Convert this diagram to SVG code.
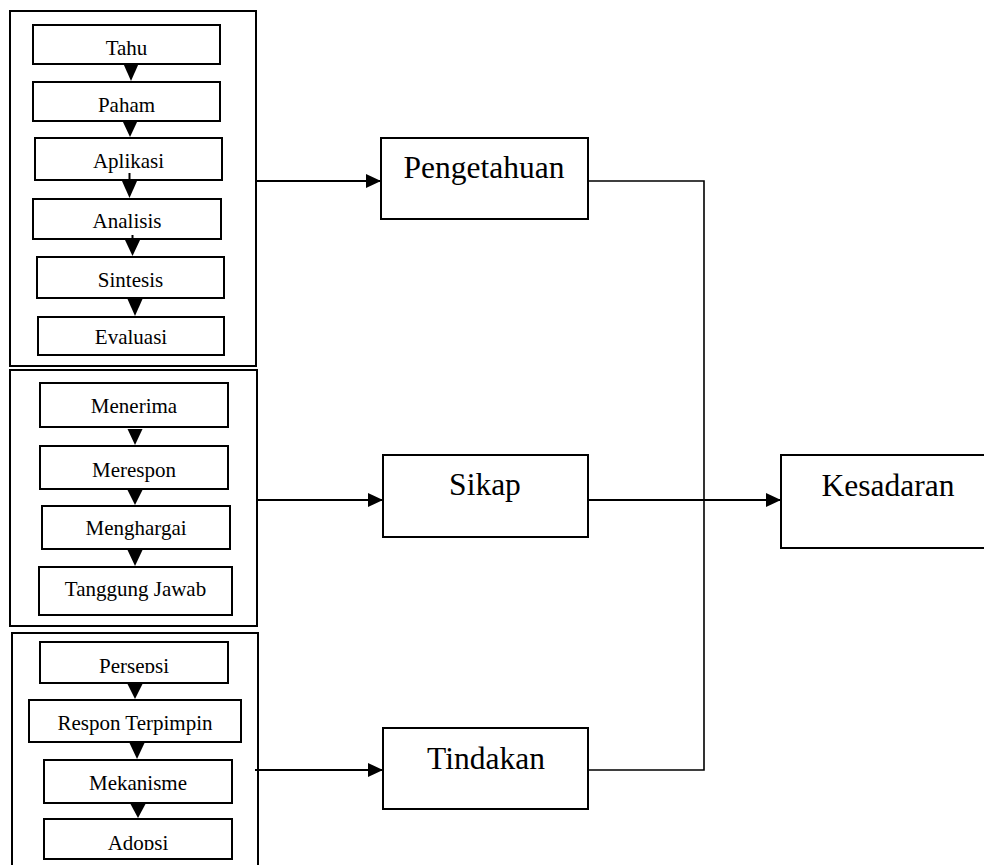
<svg xmlns="http://www.w3.org/2000/svg" width="984" height="865" viewBox="0 0 984 865">
<style>
.box{fill:#fff;stroke:#000;stroke-width:2}
.grp{fill:none;stroke:#000;stroke-width:2}
.big{fill:none;stroke:#000;stroke-width:2}
.t{font-family:"Liberation Serif","Times New Roman",serif;font-size:21px;fill:#000;text-anchor:middle}
.T{font-family:"Liberation Serif","Times New Roman",serif;font-size:31.5px;fill:#000;text-anchor:middle}
.ln{fill:none;stroke:#000;stroke-width:2}
.ln2{fill:none;stroke:#000;stroke-width:1.6}
.tri{fill:#000}
</style>
<defs>
<marker id="ah" markerWidth="15" markerHeight="14" refX="15" refY="7" orient="auto" markerUnits="userSpaceOnUse">
<path d="M0,0 L15,7 L0,14 Z" fill="#000"/>
</marker>
<clipPath id="cTahu"><rect x="33" y="25" width="187" height="30"/></clipPath>
<clipPath id="cPers"><rect x="40" y="642" width="188" height="31"/></clipPath>
<clipPath id="cAdop"><rect x="44" y="819" width="188" height="31"/></clipPath>
</defs>
<rect width="984" height="865" fill="#fff"/>

<g id="group-pengetahuan">
<rect class="grp" x="10" y="11" width="246" height="355"/>
</g>
<g id="group-sikap">
<rect class="grp" x="10" y="370" width="247" height="256"/>
</g>
<g id="group-tindakan">
<rect class="grp" x="12" y="633" width="246" height="240"/>
</g>

<g id="node-tahu"><rect class="box" x="33" y="25" width="187" height="39"/><text class="t" x="126.5" y="55" clip-path="url(#cTahu)">Tahu</text></g>
<g id="node-paham"><rect class="box" x="33" y="82" width="187" height="39"/><text class="t" x="126.5" y="112">Paham</text></g>
<g id="node-aplikasi"><rect class="box" x="35" y="138" width="187" height="42"/><text class="t" x="128.5" y="168">Aplikasi</text></g>
<g id="node-analisis"><rect class="box" x="33" y="199" width="188" height="40"/><text class="t" x="127" y="228">Analisis</text></g>
<g id="node-sintesis"><rect class="box" x="37" y="257" width="187" height="41"/><text class="t" x="130.5" y="287">Sintesis</text></g>
<g id="node-evaluasi"><rect class="box" x="38" y="317" width="186" height="38"/><text class="t" x="131" y="344">Evaluasi</text></g>

<g id="node-menerima"><rect class="box" x="40" y="383" width="188" height="44"/><text class="t" x="134" y="413">Menerima</text></g>
<g id="node-merespon"><rect class="box" x="40" y="446" width="188" height="43"/><text class="t" x="134" y="477">Merespon</text></g>
<g id="node-menghargai"><rect class="box" x="42" y="506" width="188" height="43"/><text class="t" x="136" y="535">Menghargai</text></g>
<g id="node-tanggung-jawab"><rect class="box" x="39" y="567" width="193" height="48"/><text class="t" x="135.5" y="596">Tanggung Jawab</text></g>

<g id="node-persepsi"><rect class="box" x="40" y="642" width="188" height="41"/><text class="t" x="134" y="673" clip-path="url(#cPers)">Persepsi</text></g>
<g id="node-respon-terpimpin"><rect class="box" x="29" y="700" width="212" height="42"/><text class="t" x="135" y="730">Respon Terpimpin</text></g>
<g id="node-mekanisme"><rect class="box" x="44" y="760" width="188" height="43"/><text class="t" x="138" y="790">Mekanisme</text></g>
<g id="node-adopsi"><rect class="box" x="44" y="819" width="188" height="40"/><text class="t" x="138" y="850" clip-path="url(#cAdop)">Adopsi</text></g>

<g id="node-pengetahuan"><rect class="big" x="381" y="138" width="207" height="81"/><text class="T" x="484" y="178">Pengetahuan</text></g>
<g id="node-sikap"><rect class="big" x="383" y="455" width="205" height="82"/><text class="T" x="485" y="495">Sikap</text></g>
<g id="node-tindakan"><rect class="big" x="383" y="728" width="205" height="81"/><text class="T" x="486" y="769">Tindakan</text></g>
<g id="node-kesadaran"><rect class="big" x="781" y="455" width="215" height="93"/><text class="T" x="888" y="496">Kesadaran</text></g>

<g id="connectors">
<polygon class="tri" points="123.5,64 138.5,64 131,81"/>
<polygon class="tri" points="122.5,121 137.5,121 130,137"/>
<line class="ln" x1="129.5" y1="173" x2="129.5" y2="182"/>
<polygon class="tri" points="122,181 137,181 129.5,198"/>
<line class="ln" x1="132.5" y1="235" x2="132.5" y2="241"/>
<polygon class="tri" points="125,240 140,240 132.5,256"/>
<polygon class="tri" points="127.5,299 142.5,299 135,316"/>

<polygon class="tri" points="127.5,429 142.5,429 135,445"/>
<polygon class="tri" points="127.5,490 142.5,490 135,505"/>
<polygon class="tri" points="127.5,550 142.5,550 135,566"/>

<polygon class="tri" points="127.5,684 142.5,684 135,699"/>
<polygon class="tri" points="129.5,743 144.5,743 137,759"/>
<polygon class="tri" points="130.5,804 145.5,804 138,818"/>

<line class="ln" x1="256" y1="181" x2="381" y2="181" marker-end="url(#ah)"/>
<line class="ln" x1="257" y1="500" x2="383" y2="500" marker-end="url(#ah)"/>
<line class="ln" x1="255" y1="770" x2="383" y2="770" marker-end="url(#ah)"/>

<polyline class="ln2" points="588,181 704,181 704,770 588,770"/>
<line class="ln" x1="588" y1="500" x2="781" y2="500" marker-end="url(#ah)"/>
</g>
</svg>
